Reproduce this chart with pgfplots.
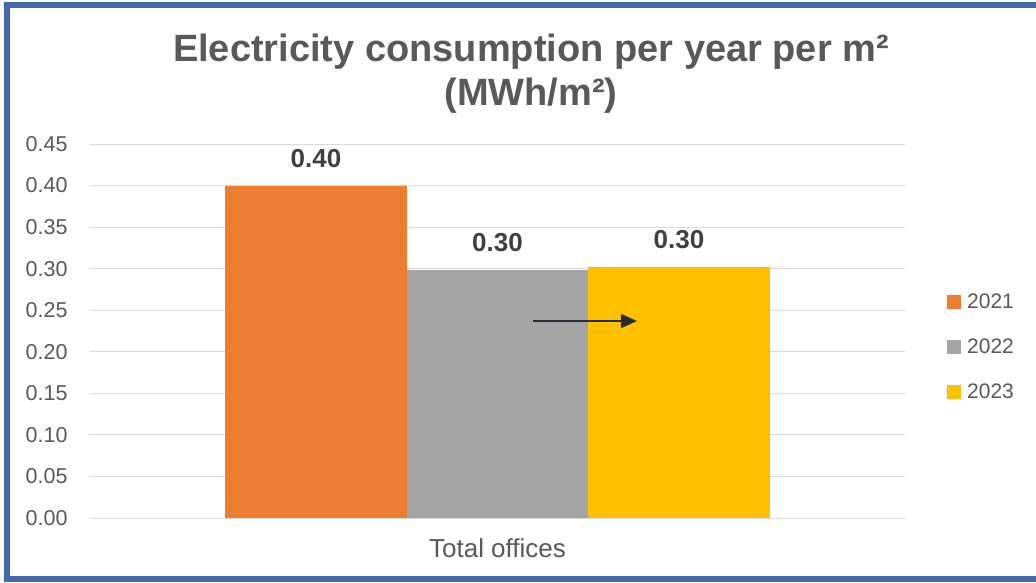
\documentclass[border=0pt]{standalone}
\usepackage{fontspec}
\setmainfont{Liberation Sans}
\newfontfamily\arialf{Liberation Sans}
\usepackage{pgfplots}
\pgfplotsset{compat=1.18}
\usetikzlibrary{arrows.meta}
\definecolor{c21}{HTML}{ED7D31}
\definecolor{c22}{HTML}{A5A5A5}
\definecolor{c23}{HTML}{FFC000}
\definecolor{frameblue}{HTML}{4468B0}
\definecolor{txt}{HTML}{595959}
\definecolor{lbl}{HTML}{404040}
\definecolor{gridc}{HTML}{D9D9D9}
\definecolor{arrowc}{HTML}{262B38}
\begin{document}
\begin{tikzpicture}[x=1pt,y=1pt]
\path[use as bounding box, fill=white] (0,0) rectangle (1036,582);
\begin{scope}
\clip (0,0) rectangle (1036,582);
\draw[frameblue, line width=6pt] (6.5,3) rectangle (1050,577);
\end{scope}
\node[font=\arialf\bfseries\fontsize{38}{40}\selectfont, text=txt, anchor=base] at (531,520) {Electricity consumption per year per m²};
\node[font=\arialf\bfseries\fontsize{38}{40}\selectfont, text=txt, anchor=base] at (531,476) {(MWh/m²)};
\begin{axis}[
  at={(90pt,64pt)}, anchor=south west,
  width=815pt, height=374pt, scale only axis,
  xmin=-2.245, xmax=2.245, ymin=0, ymax=0.45,
  enlargelimits=false, clip=false,
  ybar, bar width=1,
  ytick={0,0.05,0.10,0.15,0.20,0.25,0.30,0.35,0.40,0.45},
  xtick={0}, xticklabels={Total offices},
  scaled y ticks=false,
  /pgf/number format/fixed, /pgf/number format/fixed zerofill,
  /pgf/number format/precision=2, /pgf/number format/assume math mode=true,
  ymajorgrids, grid style={gridc, line width=1pt},
  axis x line*=bottom, axis y line*=left,
  y axis line style={draw=none},
  x axis line style={gridc, line width=1pt},
  major tick length=0pt,
  tick label style={font=\fontsize{21.5}{26}\selectfont, text=txt},
  yticklabel style={xshift=-19pt},
  xticklabel style={yshift=-17pt, font=\fontsize{26}{30}\selectfont},
  nodes near coords,
  nodes near coords style={font=\arialf\bfseries\fontsize{26}{28}\selectfont, text=lbl, inner sep=0pt, anchor=south, yshift=18pt},
  legend style={at={(axis description cs:1.0515,0.457)}, anchor=west, draw=none, fill=none,
    font=\fontsize{21}{26}\selectfont, text=txt, row sep=25pt, inner xsep=0pt,
    nodes={inner xsep=6pt}},
  legend image code/.code={\fill[#1] (0pt,-7pt) rectangle (14pt,7pt);},
]
\addplot[fill=c21, draw=none, bar shift=0pt] coordinates {(-1,0.40)};
\addplot[fill=c22, draw=none, bar shift=0pt] coordinates {(0,0.298)};
\addplot[fill=c23, draw=none, bar shift=0pt] coordinates {(1,0.302)};
\legend{2021,2022,2023}
\draw[arrowc, line width=1.3pt, -{Triangle[length=16pt,width=14pt]}] (axis cs:0.1956,0.237) -- (axis cs:0.7686,0.237);
\end{axis}
\end{tikzpicture}
\end{document}
